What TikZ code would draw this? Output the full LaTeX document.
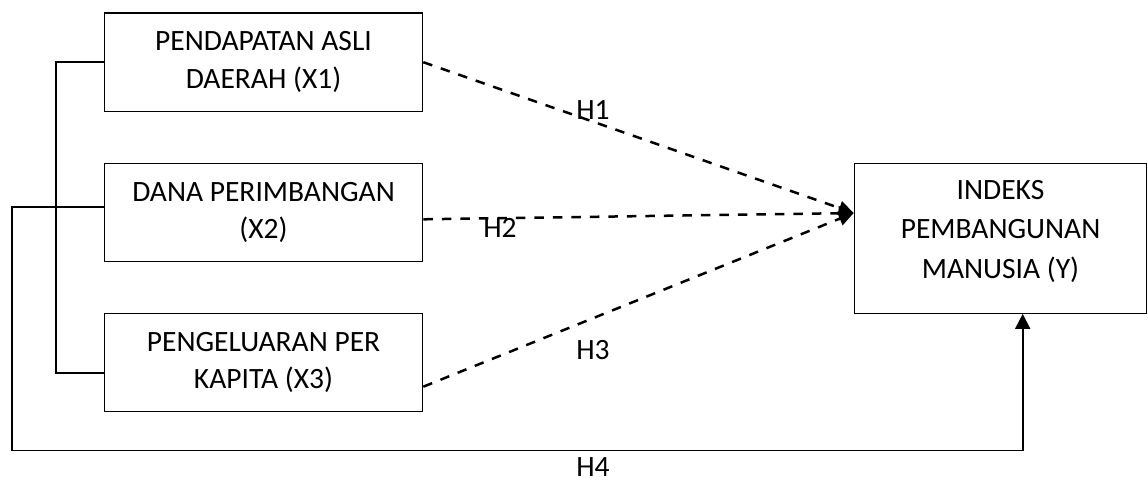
\documentclass[tikz,border=0pt]{standalone}
\usepackage{fontspec}
\setmainfont{Carlito}
\usetikzlibrary{arrows.meta}
\begin{document}
\begin{tikzpicture}[x=1pt,y=-1pt,
  box/.style={draw, line width=1.2pt, minimum width=318.4pt, minimum height=98.4pt,
    align=center, inner sep=0pt, font=\fontsize{29.5}{37.7}\selectfont},
  lab/.style={font=\fontsize{29.5}{37.7}\selectfont, inner sep=0pt},
  darr/.style={line width=2.5pt, dash pattern=on 9.5pt off 9pt,
    -{Triangle[length=15pt,width=14pt]}},
  conn/.style={line width=1.5pt},
  conn2/.style={line width=1.8pt, line join=miter, -{Triangle[length=15pt,width=15pt]}}
]
\useasboundingbox (0,0) rectangle (1148,482);
\node[box] (X1) at (263.5,62.2) {PENDAPATAN ASLI\\DAERAH (X1)};
\node[box] (X2) at (263.5,212.5) {DANA PERIMBANGAN\\(X2)};
\node[box] (X3) at (263.5,362.5) {PENGELUARAN PER\\KAPITA (X3)};
\node[box, minimum width=292.4pt, minimum height=150pt] (Y) at (1000.5,238.3) {};
\node[align=center, inner sep=0pt, font=\fontsize{29.5}{39.3}\selectfont] (Yt)
  at ([yshift=7pt]Y.center) {INDEKS\\PEMBANGUNAN\\MANUSIA (Y)};

\coordinate (t) at ([yshift=25.3pt]Y.west);
\coordinate (s2) at ([yshift=-6.8pt]X2.east);
\coordinate (s3) at ([yshift=-24.2pt]X3.east);
\coordinate (p2) at ([yshift=5.5pt]X2.west);
\coordinate (p3) at ([yshift=-10.5pt]X3.west);
\coordinate (bx) at (56,0);
\coordinate (ox) at (12,0);
\coordinate (oy) at (0,450.5);
\coordinate (q) at ([xshift=22.2pt]Y.south);

\draw[darr] (X1.east) -- (t);
\draw[darr] (s2) -- (t);
\draw[darr] (s3) -- (t);

\draw[conn] (X1.west) -- (X1.west -| bx) -- (p3 -| bx) -- (p3);
\draw[conn2] (p2) -- (p2 -| ox) -- (ox |- oy) -- (q |- oy) -- (q);

\node[lab] (H1) at (593,110) {H1};
\node[lab] (H2) at (500,228) {H2};
\node[lab] (H3) at (593,350) {H3};
\node[lab] (H4) at (593,467) {H4};
\end{tikzpicture}
\end{document}
